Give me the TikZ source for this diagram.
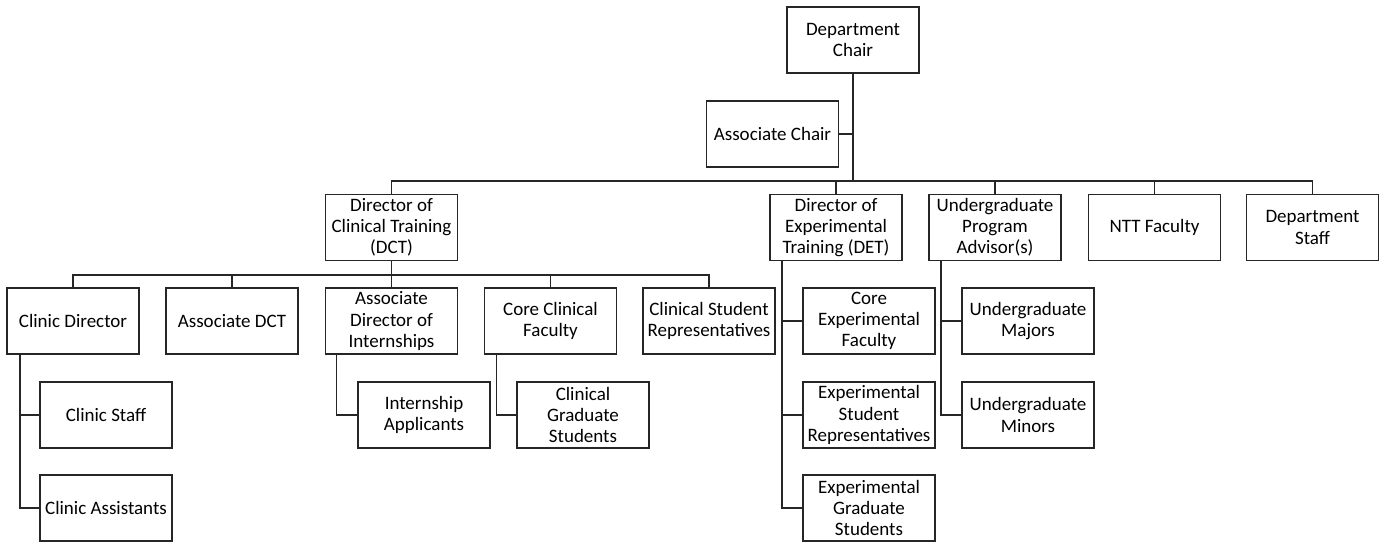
\documentclass[tikz,border=0pt]{standalone}
\usepackage{fontspec}
\setmainfont{Carlito}
\usetikzlibrary{calc}
\begin{document}
\begin{tikzpicture}[x=0.025cm,y=-0.025cm,
                role/.style={draw=black!85,line width=1.3pt,minimum width=3.3cm,minimum height=1.65cm,
                            font=\fontsize{13.5}{15}\selectfont,align=center,inner sep=2pt},
                link/.style={draw=black!85,line width=1.3pt}
            ]
                \useasboundingbox (0,0) rectangle (1379,541);
                \node[role] (chair) at (853,40) {Department\\Chair};
                \node[role] (achair) at (772.5,134) {Associate Chair};
                \node[role] (dct) at (391.5,227.5) {Director of\\Clinical Training\\(DCT)};
                \node[role] (det) at (836,227.5) {Director of\\Experimental\\Training (DET)};
                \node[role] (upa) at (995,227.5) {Undergraduate\\Program\\Advisor(s)};
                \node[role] (ntt) at (1154.5,227.5) {NTT Faculty};
                \node[role] (dstaff) at (1312.5,227.5) {Department\\Staff};
                \node[role] (clindir) at (73,321) {Clinic Director};
                \node[role] (adct) at (232,321) {Associate DCT};
                \node[role] (adi) at (391.5,321) {Associate\\Director of\\Internships};
                \node[role] (ccf) at (550.5,321) {Core Clinical\\Faculty};
                \node[role] (csr) at (709,321) {Clinical Student\\Representatives};
                \node[role] (cstaff) at (106,415) {Clinic Staff};
                \node[role] (cassist) at (106,508) {Clinic Assistants};
                \node[role] (iapp) at (424,415) {Internship\\Applicants};
                \node[role] (cgs) at (583,415) {Clinical\\Graduate\\Students};
                \node[role] (cef) at (869,321) {Core\\Experimental\\Faculty};
                \node[role] (esr) at (869,415) {Experimental\\Student\\Representatives};
                \node[role] (egs) at (869,508) {Experimental\\Graduate\\Students};
                \node[role] (ugmaj) at (1028,321) {Undergraduate\\Majors};
                \node[role] (ugmin) at (1028,415) {Undergraduate\\Minors};
                \coordinate (bus) at (853,181);
                \coordinate (dctbus) at (391.5,275);
                \draw[link] (chair.south) -- (bus);
                \draw[link] (achair.east) -- (achair.east -| chair.south);
                \draw[link] (dct.north) |- (bus) -| (dstaff.north);
                \foreach \n in {det,upa,ntt}
                    \draw[link] (\n.north) -- (\n.north |- bus);
                \draw[link] (dct.south) -- (adi.north);
                \draw[link] (clindir.north) |- (dctbus) -| (csr.north);
                \foreach \n in {adct,ccf}
                    \draw[link] (\n.north) -- (\n.north |- dctbus);
                \draw[link] ($(clindir.south west)+(14,0)$) |- (cassist.west);
                \draw[link] ($(clindir.south west)+(14,0)$) |- (cstaff.west);
                \draw[link] ($(adi.south west)+(12,0)$) |- (iapp.west);
                \draw[link] ($(ccf.south west)+(13,0)$) |- (cgs.west);
                \foreach \n in {cef,esr,egs}
                    \draw[link] ($(det.south west)+(13,0)$) |- (\n.west);
                \foreach \n in {ugmaj,ugmin}
                    \draw[link] ($(upa.south west)+(13,0)$) |- (\n.west);
            \end{tikzpicture}
\end{document}
